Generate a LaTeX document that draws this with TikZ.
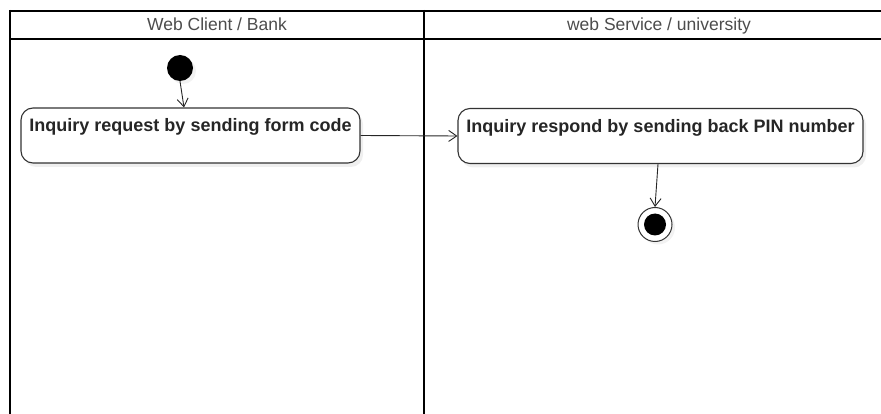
\documentclass[tikz,border=0pt]{standalone}
\usepackage{fontspec}
\setmainfont{Liberation Sans}
\usepackage{tikz}
\usetikzlibrary{shapes,arrows,arrows.meta,fit,positioning,shadows}

\tikzset{
  lane/.style={line width=2pt},
  lanehead/.style={text=black!70, font=\fontsize{17.5}{20}\selectfont, anchor=base},
  activity/.style={draw=black!80, line width=1.1pt, rounded corners=12pt, fill=white,
    font=\bfseries\fontsize{18}{21}\selectfont, text=black!85,
    inner xsep=4pt, inner ysep=5pt, text height=19pt, text depth=26pt,
    drop shadow={shadow xshift=3pt, shadow yshift=-4pt, fill=black!12}},
  flow/.style={-{Straight Barb[length=8pt,width=11pt]}, draw=black!85, line width=0.9pt},
}

\begin{document}
\begin{tikzpicture}[x=1pt,y=-1pt]
\useasboundingbox (0,0) rectangle (881,414);

% swimlanes
\draw[lane] (9,11) -- (881,11);
\draw[lane] (9,39) -- (881,39);
\draw[lane] (10,10) -- (10,414);
\draw[lane] (424,10) -- (424,414);
\node[lanehead] (bank) at (217,31) {Web Client / Bank};
\node[lanehead] (uni) at (659,31) {web Service / university};

% activities
\node[circle, fill=black, minimum size=26pt, inner sep=0pt,
  drop shadow={shadow xshift=3pt, shadow yshift=-3pt, fill=black!10}] (start) at (180,68) {};
\node[activity, minimum width=339pt] (request) at (190.5,135.5) {Inquiry request by sending form code};
\node[activity, minimum width=405pt] (respond) at (660.5,136) {Inquiry respond by sending back PIN number};
\node[circle, draw=black!80, line width=1pt, fill=white, minimum size=34pt, inner sep=0pt,
  drop shadow={shadow xshift=3pt, shadow yshift=-3pt, fill=black!10}] (stop) at (655,224.5) {};
\node[circle, fill=black, minimum size=22pt, inner sep=0pt] (stopdot) at (stop) {};

\draw[flow] (start.south) -- (request.north -| 184,0);
\draw[flow] (request.east) -- (respond.west);
\draw[flow] (respond.south -| 658,0) -- (stop.north);

\end{tikzpicture}
\end{document}
